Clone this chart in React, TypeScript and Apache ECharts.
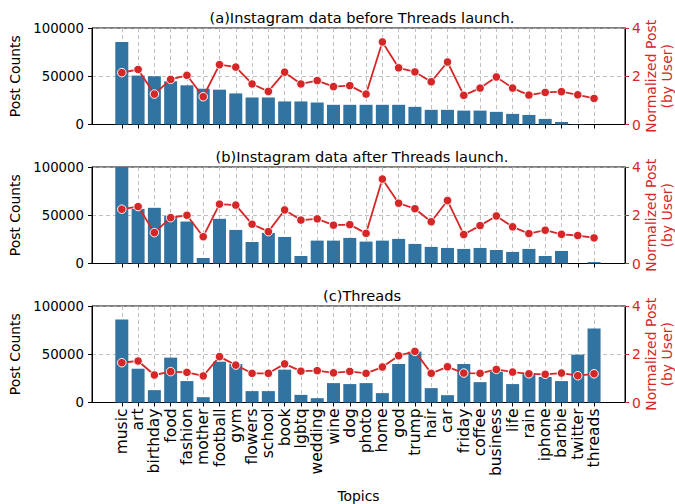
import React, { useEffect, useRef } from "react";
import * as echarts from "echarts";

const categories = ["music","art","birthday","food","fashion","mother","football","gym","flowers","school","book","lgbtq","wedding","wine","dog","photo","home","god","trump","hair","car","friday","coffee","business","life","rain","iphone","barbie","twitter","threads"];

const titles = ["(a)Instagram data before Threads launch.", "(b)Instagram data after Threads launch.", "(c)Threads"];
const rightNameLines = ["Normalized Post", "(by User)"];

const countsA = [85500,50700,50000,44800,40600,37100,36100,32200,28000,28000,23900,23900,22800,20400,20400,20400,20400,20400,18300,15200,15200,14400,14400,13100,11000,9900,5800,2600,300,0];
const normA = [2.15,2.28,1.26,1.87,2.04,1.15,2.48,2.38,1.68,1.37,2.17,1.68,1.82,1.57,1.61,1.26,3.42,2.35,2.18,1.77,2.59,1.21,1.51,1.97,1.51,1.22,1.33,1.36,1.23,1.08];

const countsB = [100000,56600,57700,49400,43500,5700,46300,34800,22300,31700,27500,7800,23700,23700,26500,22700,23700,25500,20300,17200,16100,15100,16100,14000,12000,15100,7800,13000,0,1500];
const normB = [2.25,2.36,1.28,1.9,2.0,1.11,2.46,2.42,1.63,1.32,2.22,1.8,1.85,1.59,1.61,1.25,3.5,2.5,2.27,1.73,2.61,1.2,1.57,1.97,1.52,1.24,1.38,1.21,1.16,1.06];

const countsC = [86000,35000,12800,46500,22200,5500,42300,39900,11800,11800,34000,7900,4500,20100,19100,20100,9700,39900,52700,14900,7600,39900,21100,31900,19100,30500,26400,22200,49600,76700];
const normC = [1.65,1.72,1.14,1.28,1.25,1.1,1.9,1.55,1.21,1.21,1.6,1.3,1.32,1.23,1.29,1.21,1.47,1.94,2.12,1.21,1.48,1.22,1.21,1.37,1.26,1.19,1.17,1.22,1.11,1.19];

const leftTicks = [0, 50000, 100000];
const rightTicks = [0, 2, 4];

const FONT = "DejaVu Sans";
const BAR = "#3274a1";
const RED = "#d62728";

export default function App() {
  const ref = useRef<HTMLDivElement>(null);
  useEffect(() => {
    if (!ref.current) return;
    const chart = echarts.init(ref.current, null, { renderer: "svg" });
    const idx = categories.map((_, i) => i);
    const tops = [28, 167, 306];
    const height = 96.5;
    const counts = [countsA, countsB, countsC];
    const norms = [normA, normB, normC];

    const grids: any[] = [];
    const xAxes: any[] = [];
    const yAxes: any[] = [];
    const series: any[] = [];
    const title: any[] = [];
    const graphic: any[] = [];

    for (let p = 0; p < 3; p++) {
      grids.push({ left: 92, right: 50, top: tops[p], height, show: true, borderColor: "#000", borderWidth: 1, backgroundColor: "transparent" });
      title.push({
        text: titles[p], left: 357, top: tops[p] - 23, textAlign: "center",
        textStyle: { fontFamily: FONT, fontSize: 14.6, fontWeight: "normal", color: "#000" },
      });
      const cy = tops[p] + height / 2;
      rightNameLines.forEach((t, k) => {
        graphic.push({
          type: "text", x: 651 + k * 15.5, y: cy, rotation: Math.PI / 2,
          style: { text: t, fill: RED, font: `14px "${FONT}"`, textAlign: "center", textVerticalAlign: "middle" },
        });
      });
      const last = p === 2;
      xAxes.push({
        type: "value", gridIndex: p, min: -1.83, max: 30.9,
        axisLine: { show: true, onZero: false, lineStyle: { color: "#000", width: 1 } },
        axisTick: { show: true, length: 4, customValues: idx, lineStyle: { color: "#000" } },
        axisLabel: {
          show: last, customValues: idx, rotate: 90, margin: 6, showMinLabel: true, showMaxLabel: true, hideOverlap: false,
          fontFamily: FONT, fontSize: 15.5, color: "#000",
          formatter: (v: number) => categories[Math.round(v)] ?? "",
        },
        splitLine: { show: true, lineStyle: { color: "#b0b0b0", type: [4, 3], width: 0.8 } },
        name: last ? "Topics" : "", nameLocation: "middle", nameGap: 86,
        nameTextStyle: { fontFamily: FONT, fontSize: 13.9, color: "#000" },
      });
      yAxes.push({
        type: "value", gridIndex: p, min: 0, max: 100000, interval: 50000, position: "left",
        axisLine: { show: true, onZero: false, lineStyle: { color: "#000" } },
        axisTick: { show: true, length: 4, lineStyle: { color: "#000" } },
        axisLabel: { fontFamily: FONT, fontSize: 13.3, color: "#000", margin: 8, formatter: (v: number) => (leftTicks.includes(v) ? String(v) : "") },
        splitLine: { show: true, lineStyle: { color: "#b0b0b0", type: [4, 3], width: 0.8 } },
        name: "Post Counts", nameLocation: "middle", nameGap: 66, nameRotate: 90,
        nameTextStyle: { fontFamily: FONT, fontSize: 13.9, color: "#000" },
      });
      yAxes.push({
        type: "value", gridIndex: p, min: 0, max: 4, interval: 2, position: "right",
        axisLine: { show: true, onZero: false, lineStyle: { color: "#000" } },
        axisTick: { show: true, length: 4, lineStyle: { color: RED } },
        axisLabel: { fontFamily: FONT, fontSize: 13.9, color: RED, margin: 7, formatter: (v: number) => (rightTicks.includes(v) ? String(v) : "") },
        splitLine: { show: false },
      });
      series.push({
        type: "bar", xAxisIndex: p, yAxisIndex: p * 2, barWidth: 13,
        data: counts[p].map((v, i) => [i, v]),
        itemStyle: { color: BAR }, clip: true, z: 2,
      });
      series.push({
        type: "line", xAxisIndex: p, yAxisIndex: p * 2 + 1,
        data: norms[p].map((v, i) => [i, v]),
        symbol: "circle", symbolSize: 8.5, showSymbol: true,
        lineStyle: { color: RED, width: 1.8 },
        itemStyle: { color: RED, borderColor: "#fff", borderWidth: 1 },
        z: 5,
      });
    }

    chart.setOption({
      animation: false,
      backgroundColor: "#fff",
      title,
      grid: grids,
      xAxis: xAxes,
      yAxis: yAxes,
      series,
      graphic,
    });
    return () => chart.dispose();
  }, []);
  return <div ref={ref} style={{ position: "fixed", left: 0, top: 0, width: 675, height: 504 }} />;
}
